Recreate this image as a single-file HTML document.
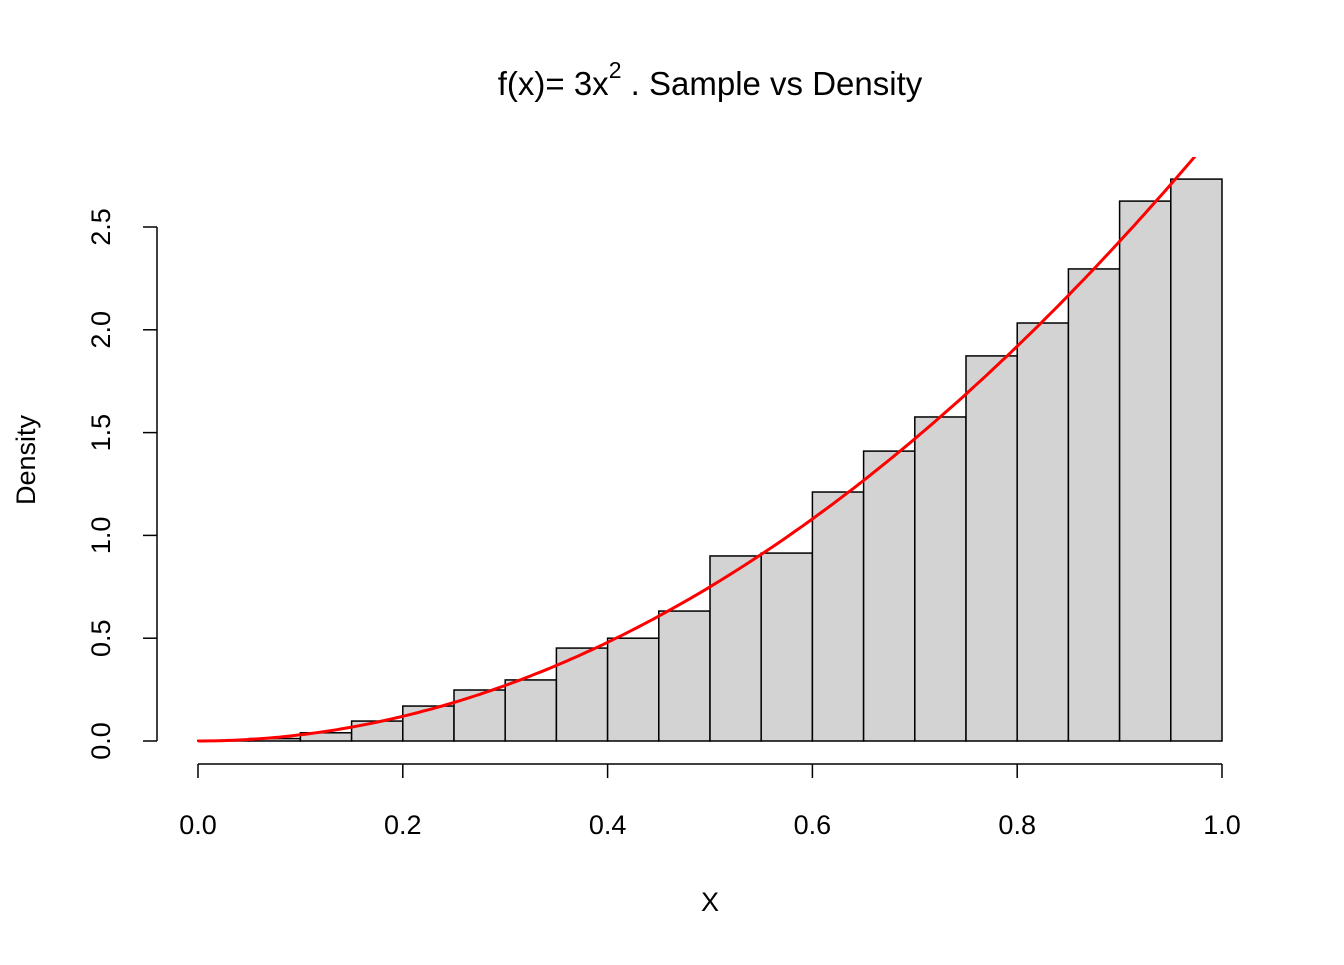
<!DOCTYPE html>
<html><head><meta charset="utf-8"><style>
body{margin:0;background:#fff}
text{font-family:"Liberation Sans",Arial,sans-serif;fill:#000}
</style></head><body>
<svg id="chart" width="1344" height="960" xmlns="http://www.w3.org/2000/svg">
<text x="710" y="95" font-size="33" text-anchor="middle">f(x)= 3x<tspan dy="-17" font-size="23">2</tspan><tspan dy="17"> . Sample vs Density</tspan></text>
<g id="bars"></g>
<g id="curve"></g>
<g id="axes"></g>
<text x="710" y="911" font-size="27" text-anchor="middle">X</text>
<text x="0" y="0" font-size="27" text-anchor="middle" transform="translate(35,460) rotate(-90)">Density</text>
</svg>
<script>
const binStarts=[0,0.05,0.1,0.15,0.2,0.25,0.3,0.35,0.4,0.45,0.5,0.55,0.6,0.65,0.7,0.75,0.8,0.85,0.9,0.95];
const densities=[0.003,0.012,0.04,0.097,0.17,0.248,0.297,0.452,0.5,0.632,0.9,0.914,1.211,1.41,1.576,1.873,2.033,2.296,2.626,2.733];
const xTicks=[0,0.2,0.4,0.6,0.8,1.0];
const xTickLabels=["0.0","0.2","0.4","0.6","0.8","1.0"];
const yTicks=[0,0.5,1,1.5,2,2.5];
const yTickLabels=["0.0","0.5","1.0","1.5","2.0","2.5"];
const binWidth=0.05;
const NS="http://www.w3.org/2000/svg";
const xs=v=>198+v*1024;
const ys=v=>741-v*205.6;
function mk(t,a,p){const e=document.createElementNS(NS,t);for(const k in a)e.setAttribute(k,a[k]);p.appendChild(e);return e;}
const bars=document.getElementById('bars');
binStarts.forEach((b,i)=>{
 const r=mk('rect',{x:xs(b),y:ys(densities[i]),width:xs(b+binWidth)-xs(b),height:ys(0)-ys(densities[i]),fill:'#d3d3d3',stroke:'#000','stroke-width':1.5},bars);
 
 
});
const cg=document.getElementById('curve');
let d='';
for(let i=0;i<=200;i++){const x=i/200;d+=(i?'L':'M')+xs(x).toFixed(1)+','+ys(3*x*x).toFixed(1);}
mk('clipPath',{id:'clip'},cg);
mk('rect',{x:157,y:157,width:1105,height:620},document.getElementById('clip'));
const path=mk('path',{d:d,fill:'none',stroke:'#ff0000','stroke-width':3,'clip-path':'url(#clip)'},cg);


const ax=document.getElementById('axes');
mk('line',{x1:xs(0),x2:xs(1),y1:764,y2:764,stroke:'#000','stroke-width':1.5},ax);
xTicks.forEach((t,i)=>{
 mk('line',{x1:xs(t),x2:xs(t),y1:764,y2:778,stroke:'#000','stroke-width':1.5},ax);
 const tx=mk('text',{x:xs(t),y:834,'font-size':27,'text-anchor':'middle'},ax);
 tx.textContent=xTickLabels[i];
 
 
});
mk('line',{x1:157,x2:157,y1:ys(0),y2:ys(2.5),stroke:'#000','stroke-width':1.5},ax);
yTicks.forEach((t,i)=>{
 mk('line',{x1:143,x2:157,y1:ys(t),y2:ys(t),stroke:'#000','stroke-width':1.5},ax);
 const tx=mk('text',{x:0,y:0,'font-size':27,'text-anchor':'middle',transform:'translate(110,'+ys(t)+') rotate(-90)'},ax);
 tx.textContent=yTickLabels[i];
 
 
});
</script>
</body></html>
